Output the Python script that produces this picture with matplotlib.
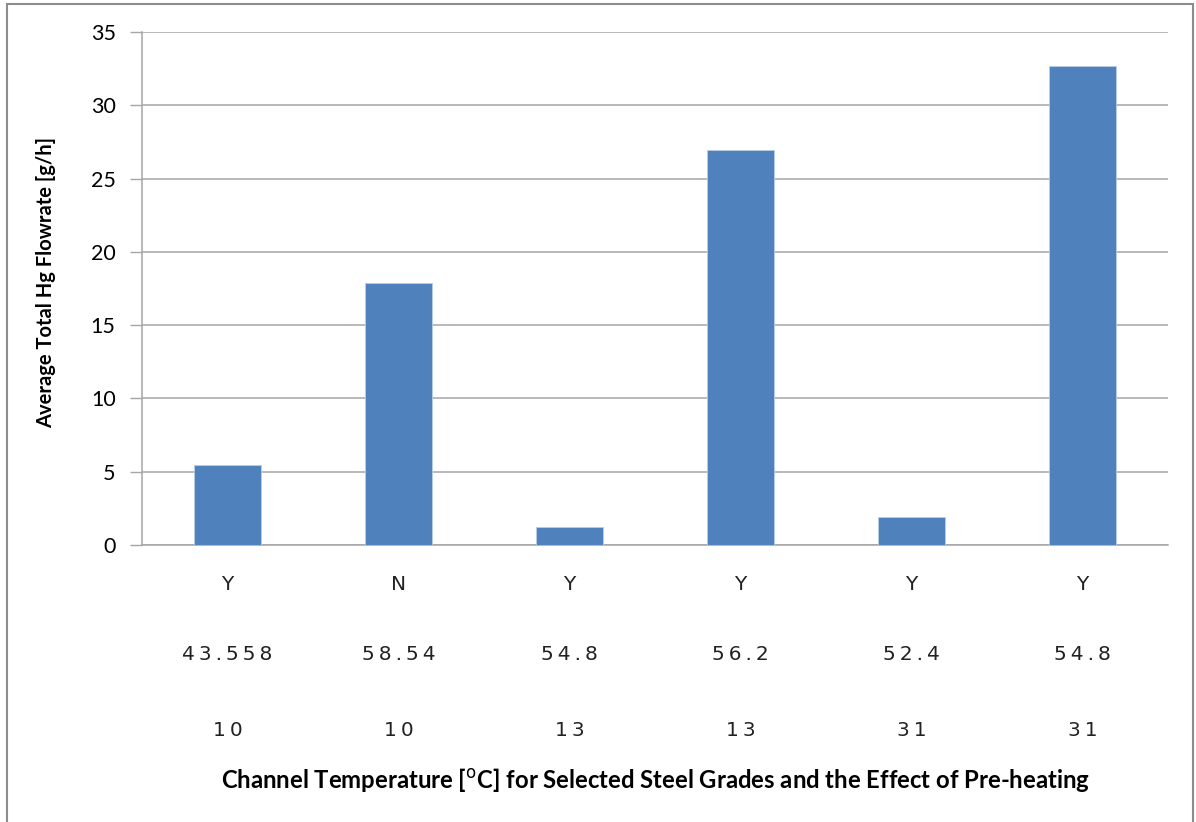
import matplotlib.pyplot as plt
from matplotlib.patches import Rectangle
import numpy as np

# data
preheat = ['Y', 'N', 'Y', 'Y', 'Y', 'Y']
channel_temp = ['43.558', '58.54', '54.8', '56.2', '52.4', '54.8']
grade = ['10', '10', '13', '13', '31', '31']
flowrate = [5.45, 17.87, 1.23, 26.95, 1.92, 32.67]

fig = plt.figure(figsize=(11.96, 8.22), dpi=100)
ax = fig.add_axes([142/1196, 1-545/822, 1026/1196, 513/822])

x = np.arange(len(flowrate))
ax.bar(x, flowrate, width=0.39, color='#4f81bd', edgecolor='#b9cde5', linewidth=0.6, zorder=3)

ax.set_xlim(-0.5, len(flowrate)-0.5)
ax.set_ylim(0, 35)
ax.set_yticks(np.arange(0, 36, 5))
ax.yaxis.grid(True, color='#a6a6a6', linewidth=1.1, zorder=0)
ax.tick_params(axis='y', length=9, color='#a6a6a6', width=1, labelsize=15.5, pad=10)
for lab in ax.get_yticklabels():
    lab.set_fontfamily('Lato')
ax.set_xticks([])
for s in ['top', 'right']:
    ax.spines[s].set_visible(False)
for s in ['left', 'bottom']:
    ax.spines[s].set_color('#a6a6a6')
    ax.spines[s].set_linewidth(1.1)

fig.text(46/1196, 1-283/822, 'Average Total Hg Flowrate [g/h]', rotation=90,
         ha='center', va='center', fontsize=14.5, fontweight='bold', family='Lato')

# multi-level category labels
rows = [(preheat, 585), (channel_temp, 655), (grade, 730)]
for labels, ypix in rows:
    for xi, t in zip(x, labels):
        xfig = ax.transData.transform((xi, 0))[0]
        fig.text(xfig/1196, 1-ypix/822, '\u2009'.join(t), ha='center', va='center',
                 fontsize=14.5, family='DejaVu Sans', color='#222222')

fig.text(655/1196, 1-780/822,
         'Channel Temperature [$^{\\mathrm{o}}$C] for Selected Steel Grades and the Effect of Pre-heating',
         ha='center', va='center', fontsize=17.2, fontweight='bold', family='Lato')

# outer chart border
fig.patches.append(Rectangle((7/1196, -0.01), (1193-7)/1196, 1-4/822+0.01,
                             transform=fig.transFigure, fill=False,
                             edgecolor='#8c8c8c', linewidth=1.5))

fig.savefig('out.png', dpi=100)
